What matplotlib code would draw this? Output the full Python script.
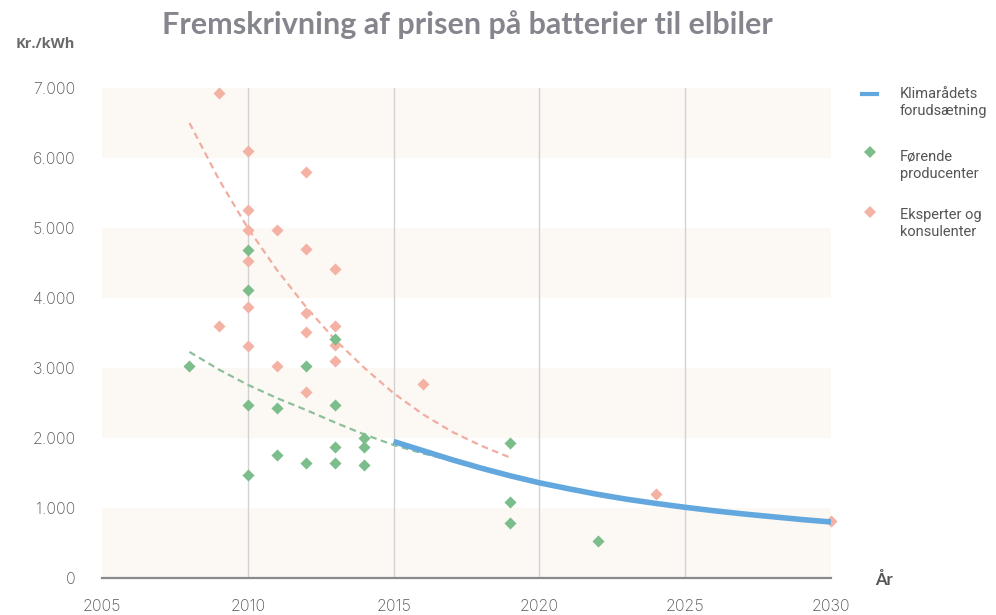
import matplotlib
matplotlib.use("Agg")
import matplotlib.pyplot as plt
from matplotlib.lines import Line2D
from matplotlib.ticker import FuncFormatter

# ---- data ----
green_years = [2008, 2010, 2010, 2010, 2010, 2011, 2011, 2012, 2012, 2013, 2013, 2013, 2013,
               2014, 2014, 2014, 2019, 2019, 2019, 2022]
green_vals = [3030, 4690, 4110, 2470, 1470, 2430, 1760, 3030, 1640, 3410, 2470, 1870, 1640,
              2000, 1870, 1610, 1930, 1090, 790, 530]

orange_years = [2009, 2009, 2010, 2010, 2010, 2010, 2010, 2010, 2011, 2011, 2012, 2012, 2012, 2012,
                2012, 2013, 2013, 2013, 2013, 2016, 2024, 2030]
orange_vals = [6930, 3600, 6100, 5260, 4970, 4530, 3870, 3310, 4970, 3030, 5800, 4700, 3790, 3510,
               2660, 4410, 3600, 3330, 3100, 2770, 1200, 810]

blue_years = [2015, 2016, 2017, 2018, 2019, 2020, 2021, 2022, 2023, 2024, 2025, 2026, 2027,
              2028, 2029, 2030]
blue_vals = [1950, 1820, 1690, 1570, 1460, 1360, 1275, 1195, 1125, 1065, 1010, 960, 915,
             875, 835, 800]

orange_trend_years = [2008, 2009, 2010, 2011, 2012, 2013, 2014, 2015, 2016, 2017, 2018, 2019]
orange_trend_vals = [6500, 5700, 5000, 4400, 3870, 3400, 3000, 2640, 2340, 2090, 1890, 1720]

green_trend_years = [2008, 2009, 2010, 2011, 2012, 2013, 2014, 2015, 2016, 2017]
green_trend_vals = [3230, 2980, 2760, 2570, 2400, 2220, 2050, 1900, 1780, 1680]

x_ticks = [2005, 2010, 2015, 2020, 2025, 2030]
y_ticks = [0, 1000, 2000, 3000, 4000, 5000, 6000, 7000]
bands = [(0, 1000), (2000, 3000), (4000, 5000), (6000, 7000)]
vgrid = [2010, 2015, 2020, 2025]

title = "Fremskrivning af prisen på batterier til elbiler"
labels = ["Klimarådets\nforudsætning", "Førende\nproducenter", "Eksperter og\nkonsulenter"]

# ---- style ----
c_blue = "#62a8de"
c_green = "#7cbd8c"
c_orange = "#f3b2a4"
c_text = "#555555"

W, H = 996, 615
fig = plt.figure(figsize=(W / 100, H / 100), dpi=100)
left, right, top, bottom = 102, 831, 88, 578
ax = fig.add_axes([left / W, 1 - bottom / H, (right - left) / W, (bottom - top) / H])
ax.set_xlim(2005, 2030)
ax.set_ylim(0, 7000)

for lo, hi in bands:
    ax.axhspan(lo, hi, color="#fcf8f4", zorder=0, lw=0)
for xv in vgrid:
    ax.axvline(xv, color="#d2d2d2", lw=1.0, zorder=1)

ax.plot(orange_trend_years, orange_trend_vals, ls=(0, (3, 2)), color="#f0ada0", lw=1.6, zorder=2)
ax.plot(green_trend_years, green_trend_vals, ls=(0, (3, 2)), color="#8cc09a", lw=1.6, zorder=2)

ax.scatter(orange_years, orange_vals, marker="D", s=38, color=c_orange, lw=0, zorder=3, clip_on=False)
ax.scatter(green_years, green_vals, marker="D", s=38, color=c_green, lw=0, zorder=3, clip_on=False)

ax.plot(blue_years, blue_vals, color=c_blue, lw=4.0, zorder=4, solid_capstyle="butt")

for s in ["top", "right", "left"]:
    ax.spines[s].set_visible(False)
ax.spines["bottom"].set_color("#8a8a8a")
ax.spines["bottom"].set_linewidth(1.6)
ax.spines["bottom"].set_zorder(5)

ax.set_xticks(x_ticks)
ax.set_yticks(y_ticks)
ax.yaxis.set_major_formatter(FuncFormatter(lambda v, p: f"{int(v):,}".replace(",", ".")))
ax.tick_params(axis="both", length=0, labelsize=11.5, colors=c_text)
ax.tick_params(axis="y", pad=19)
ax.tick_params(axis="x", pad=15)
for lab in ax.get_xticklabels() + ax.get_yticklabels():
    lab.set_fontfamily("Inter")
    lab.set_fontweight("light")

fig.text(467 / W, 1 - 25 / H, title, ha="center", va="center", fontsize=22,
         fontweight="bold", color="#85858d", family="Lato")
fig.text(75 / W, 1 - 44 / H, "Kr./kWh", ha="right", va="center", fontsize=10.5,
         fontweight="bold", color="#6a6a6a", family="Open Sans")
fig.text(875 / W, 1 - 580 / H, "År", ha="left", va="center", fontsize=12,
         fontweight="bold", color="#555555", family="Lato")

# ---- legend (handles aligned with the first text line, as in the reference) ----
leg_handles = [
    Line2D([862 / W, 877 / W], [1 - 94 / H, 1 - 94 / H], color=c_blue, lw=3.0,
           transform=fig.transFigure),
    Line2D([870 / W], [1 - 152 / H], color=c_green, marker="D", ls="none", markersize=6.5,
           markeredgewidth=0, transform=fig.transFigure),
    Line2D([870 / W], [1 - 212 / H], color=c_orange, marker="D", ls="none", markersize=6.5,
           markeredgewidth=0, transform=fig.transFigure),
]
for h in leg_handles:
    fig.add_artist(h)
label_tops = [87, 150, 208]
for lab, ytop in zip(labels, label_tops):
    fig.text(900 / W, 1 - ytop / H, lab, ha="left", va="top", fontsize=10.5,
             family="Roboto", color=c_text, linespacing=1.25)

fig.savefig("out.png", dpi=100)
